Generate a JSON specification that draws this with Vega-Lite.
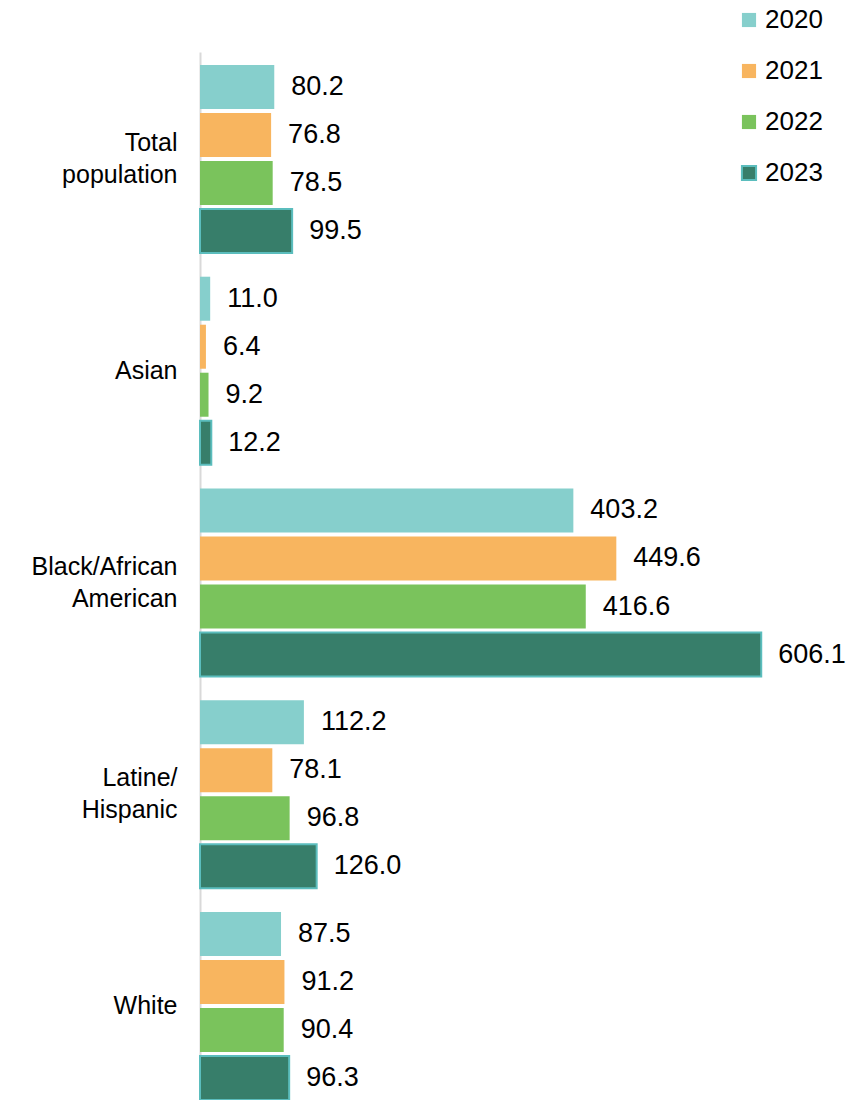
{
  "$schema": "https://vega.github.io/schema/vega-lite/v6.json",
  "autosize": "none",
  "width": 663,
  "height": 1061,
  "padding": {"left": 200, "top": 52, "right": 0, "bottom": 0},
  "background": "white",
  "config": {"view": {"stroke": null}, "font": "Liberation Sans"},
  "data": {"values": [
    {"group": "Total population", "year": "2020", "rate": 80.2},
    {"group": "Total population", "year": "2021", "rate": 76.8},
    {"group": "Total population", "year": "2022", "rate": 78.5},
    {"group": "Total population", "year": "2023", "rate": 99.5},
    {"group": "Asian", "year": "2020", "rate": 11.0},
    {"group": "Asian", "year": "2021", "rate": 6.4},
    {"group": "Asian", "year": "2022", "rate": 9.2},
    {"group": "Asian", "year": "2023", "rate": 12.2},
    {"group": "Black/African American", "year": "2020", "rate": 403.2},
    {"group": "Black/African American", "year": "2021", "rate": 449.6},
    {"group": "Black/African American", "year": "2022", "rate": 416.6},
    {"group": "Black/African American", "year": "2023", "rate": 606.1},
    {"group": "Latine/Hispanic", "year": "2020", "rate": 112.2},
    {"group": "Latine/Hispanic", "year": "2021", "rate": 78.1},
    {"group": "Latine/Hispanic", "year": "2022", "rate": 96.8},
    {"group": "Latine/Hispanic", "year": "2023", "rate": 126.0},
    {"group": "White", "year": "2020", "rate": 87.5},
    {"group": "White", "year": "2021", "rate": 91.2},
    {"group": "White", "year": "2022", "rate": 90.4},
    {"group": "White", "year": "2023", "rate": 96.3}
  ]},
  "encoding": {
    "y": {
      "field": "group", "type": "nominal",
      "sort": ["Total population", "Asian", "Black/African American", "Latine/Hispanic", "White"],
      "scale": {"paddingInner": 0.094, "paddingOuter": 0.052},
      "axis": {
        "title": null, "ticks": false,
        "domainColor": "#d9d9d9", "domainWidth": 2,
        "labelFontSize": 25, "labelColor": "#000000", "labelPadding": 23,
        "labelLineHeight": 32, "labelLimit": 250,
        "labelExpr": "datum.value == 'Total population' ? ['Total', 'population'] : datum.value == 'Black/African American' ? ['Black/African', 'American'] : datum.value == 'Latine/Hispanic' ? ['Latine/', 'Hispanic'] : datum.value",
        "labelOffset": {"condition": {"test": "datum.value == 'Asian' || datum.value == 'White'", "value": 0}, "value": -16}
      }
    },
    "yOffset": {
      "field": "year", "type": "nominal",
      "scale": {"paddingInner": 0.083, "paddingOuter": 0.04}
    },
    "x": {
      "field": "rate", "type": "quantitative",
      "scale": {"domain": [0, 716], "nice": false, "zero": true},
      "axis": null
    }
  },
  "layer": [
    {
      "mark": {"type": "bar"},
      "encoding": {
        "color": {
          "field": "year", "type": "nominal",
          "scale": {"domain": ["2020", "2021", "2022", "2023"], "range": ["#86cfcc", "#f8b55f", "#7ac35c", "#377e6a"]},
          "legend": {
            "title": null, "orient": "none", "legendX": 536, "legendY": -45,
            "symbolType": "square", "symbolSize": 200, "symbolOpacity": 1,
            "labelFontSize": 26, "labelColor": "#000000", "labelOffset": 3,
            "rowPadding": 25, "symbolStrokeWidth": 2
          }
        },
        "stroke": {
          "field": "year", "type": "nominal",
          "scale": {"domain": ["2020", "2021", "2022", "2023"], "range": ["transparent", "transparent", "transparent", "#5bbdbd"]},
          "legend": {
            "title": null, "orient": "none", "legendX": 536, "legendY": -45,
            "symbolType": "square", "symbolSize": 200, "symbolOpacity": 1,
            "labelFontSize": 26, "labelColor": "#000000", "labelOffset": 3,
            "rowPadding": 25, "symbolStrokeWidth": 2
          }
        },
        "strokeWidth": {"value": 2}
      }
    },
    {
      "mark": {"type": "text", "align": "left", "baseline": "middle", "dx": 17, "fontSize": 27, "color": "#000000"},
      "encoding": {
        "text": {"field": "rate", "type": "quantitative", "format": ".1f"}
      }
    }
  ]
}
